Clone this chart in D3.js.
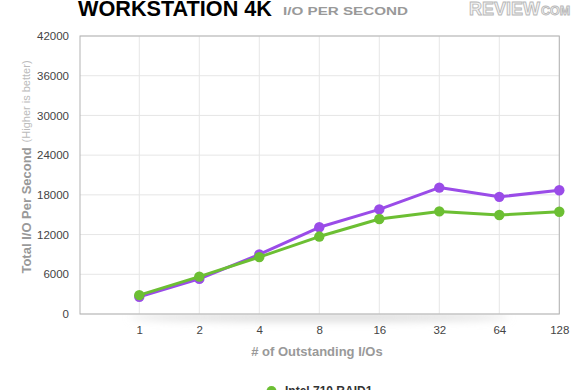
<!DOCTYPE html>
<html><head><meta charset="utf-8">
<script src="https://cdn.jsdelivr.net/npm/d3@7"></script>
<style>body{margin:0;background:#fff;}svg{display:block;font-family:"Liberation Sans",Arial,Helvetica,sans-serif;}</style>
</head><body>
<svg id="c" width="580" height="390"></svg>
<script>
const categories = ["1","2","4","8","16","32","64","128"];
const seriesNames = ["Intel 710 RAID0","Intel 710 RAID1"];
const purpleValues = [2600,5300,9000,13100,15800,19100,17700,18700];
const greenValues = [2850,5650,8600,11700,14350,15500,14950,15450];
const yTicks = [0,6000,12000,18000,24000,30000,36000,42000];
const colors = ["#9a4ce8","#6cbf33"];

const svg = d3.select("#c");
const L=80, R=559.3, T=36, B=314;
const x = d3.scalePoint().domain(categories).range([139.3, R]);
const y = d3.scaleLinear().domain([0,42000]).range([B,T]);

// shadow under plot
const defs = svg.append("defs");
const f = defs.append("filter").attr("id","blur").attr("x","-20%").attr("y","-200%").attr("width","140%").attr("height","500%");
f.append("feGaussianBlur").attr("stdDeviation","4");
svg.append("ellipse").attr("cx",(L+R)/2).attr("cy",B+3).attr("rx",190).attr("ry",4)
  .attr("fill","#d8d8d8").attr("filter","url(#blur)");
svg.append("rect").attr("x",L).attr("y",T).attr("width",R-L).attr("height",B-T).attr("fill","#fff");

// grid
svg.append("g").selectAll("line").data(yTicks).join("line")
  .attr("x1",L).attr("x2",R).attr("y1",d=>y(d)).attr("y2",d=>y(d))
  .attr("stroke","#e6e6e6").attr("stroke-width",1);
svg.append("g").selectAll("line").data(categories).join("line")
  .attr("x1",d=>x(d)).attr("x2",d=>x(d)).attr("y1",T).attr("y2",B)
  .attr("stroke","#e6e6e6").attr("stroke-width",1);
svg.append("rect").attr("x",L).attr("y",T).attr("width",R-L).attr("height",B-T)
  .attr("fill","none").attr("stroke","#b3b3b3").attr("stroke-width",1);

// axes
const yAxis = svg.append("g").attr("transform",`translate(${L},0)`)
  .call(d3.axisLeft(y).tickValues(yTicks).tickSize(0).tickPadding(11).tickFormat(d3.format("d")));
yAxis.select(".domain").remove();
yAxis.selectAll("text").attr("font-size",11.5).attr("fill","#444").attr("font-family","Liberation Sans, Arial, sans-serif");
const xAxis = svg.append("g").attr("transform",`translate(0,${B})`)
  .call(d3.axisBottom(x).tickSize(0).tickPadding(12));
xAxis.select(".domain").remove();
xAxis.selectAll("text").attr("font-size",11.5).attr("fill","#444").attr("font-family","Liberation Sans, Arial, sans-serif");

// lines
const series = [purpleValues, greenValues];
const line = d3.line().x((d,i)=>x(categories[i])).y(d=>y(d));
series.forEach((vals,si)=>{
  svg.append("path").datum(vals).attr("d",line).attr("fill","none")
    .attr("stroke",colors[si]).attr("stroke-width",3).attr("stroke-linejoin","round");
  svg.append("g").selectAll("circle").data(vals).join("circle")
    .attr("cx",(d,i)=>x(categories[i])).attr("cy",d=>y(d)).attr("r",5.2).attr("fill",colors[si]);
});

// titles
svg.append("text").attr("x",78).attr("y",16).attr("font-size",22.5).attr("font-weight","bold")
  .attr("fill","#000").attr("textLength",194).attr("lengthAdjust","spacingAndGlyphs").text("WORKSTATION 4K");
svg.append("text").attr("x",283).attr("y",15).attr("font-size",11).attr("font-weight","bold")
  .attr("fill","#999").attr("textLength",125).attr("lengthAdjust","spacingAndGlyphs").text("I/O PER SECOND");
const logo = svg.append("text").attr("x",469).attr("y",15).attr("font-weight","bold")
  .attr("fill","#f4f4f4").attr("stroke","#b8b8b8").attr("stroke-width",0.9);
logo.append("tspan").attr("font-size",18).text("REVIEW");
logo.append("tspan").attr("font-size",12.5).attr("dx",1).text("COM");

svg.append("text").attr("transform",`translate(31,167) rotate(-90)`).attr("text-anchor","middle")
  .call(t=>{
    t.append("tspan").attr("font-size",13).attr("font-weight","bold").attr("fill","#999").text("Total I/O Per Second");
    t.append("tspan").attr("font-size",11).attr("fill","#bbb").attr("dx",5).attr("dy",-1).text("(Higher is better)");
  });
svg.append("text").attr("x",317).attr("y",356).attr("text-anchor","middle").attr("font-size",13)
  .attr("font-weight","bold").attr("fill","#999").text("# of Outstanding I/Os");

// legend (only the first entry is inside the visible area)
const lg = svg.append("g");
lg.append("circle").attr("cx",271.5).attr("cy",391).attr("r",5).attr("fill",colors[1]);
lg.append("text").attr("x",285).attr("y",395).attr("font-size",12).attr("font-weight","bold")
  .attr("fill","#333").text(seriesNames[1]);
</script>
</body></html>
